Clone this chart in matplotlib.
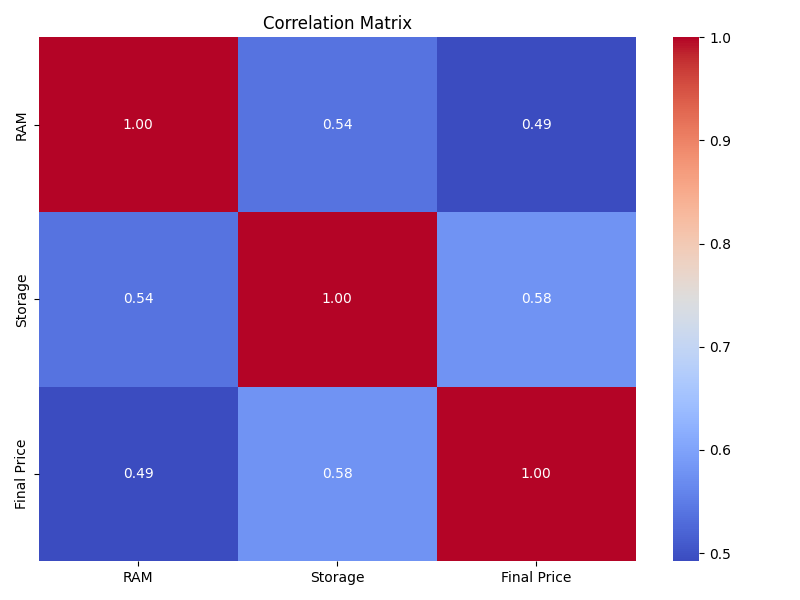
import matplotlib
matplotlib.use("Agg")
import matplotlib.pyplot as plt
import seaborn as sns
import pandas as pd

labels = ["RAM", "Storage", "Final Price"]
row_ram = [1.0, 0.538, 0.492]
row_storage = [0.538, 1.0, 0.579]
row_price = [0.492, 0.579, 1.0]

df = pd.DataFrame([row_ram, row_storage, row_price], index=labels, columns=labels)

plt.figure(figsize=(8, 6), dpi=100)
sns.heatmap(df, annot=True, cmap="coolwarm", fmt=".2f")
plt.title("Correlation Matrix")
plt.tight_layout()
plt.savefig("out.png")
